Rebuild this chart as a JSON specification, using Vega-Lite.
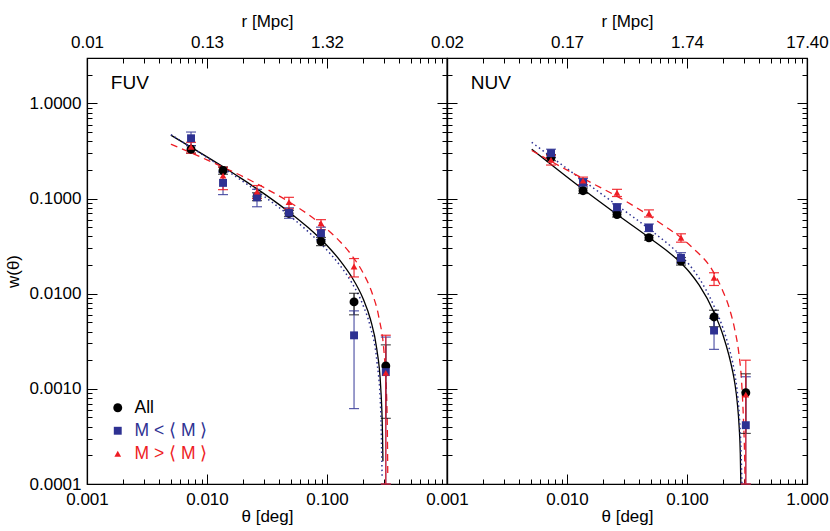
{
  "$schema": "https://vega.github.io/schema/vega-lite/v6.json",
  "background": "white",
  "padding": {"left": 3, "top": 11, "right": 0, "bottom": 0},
  "bounds": "flush",
  "spacing": 0,
  "config": {
    "font": "Liberation Sans",
    "view": {"stroke": "black", "strokeWidth": 1.2},
    "axis": {"labelFont": "Liberation Sans", "titleFont": "Liberation Sans", "labelFontSize": 17, "titleFontSize": 17, "titleFontWeight": "normal", "labelColor": "black", "titleColor": "black", "tickColor": "black", "domainColor": "black", "grid": false, "labelOverlap": false, "labelFlush": false, "labelBound": false, "tickWidth": 1, "domainWidth": 1.2}
  },
  "datasets": {
    "pts": [
      {"p": "FUV", "g": "All", "t": 0.00736, "w": 0.33, "lo": 0.30, "hi": 0.36},
      {"p": "FUV", "g": "All", "t": 0.0136, "w": 0.197, "lo": 0.18, "hi": 0.215},
      {"p": "FUV", "g": "All", "t": 0.0261, "w": 0.105, "lo": 0.095, "hi": 0.115},
      {"p": "FUV", "g": "All", "t": 0.0482, "w": 0.070, "lo": 0.065, "hi": 0.075},
      {"p": "FUV", "g": "All", "t": 0.0891, "w": 0.0354, "lo": 0.032, "hi": 0.039},
      {"p": "FUV", "g": "All", "t": 0.168, "w": 0.0082, "lo": 0.006, "hi": 0.0101},
      {"p": "FUV", "g": "All", "t": 0.309, "w": 0.00174, "lo": 0.00049, "hi": 0.0029},
      {"p": "FUV", "g": "M < ⟨ M ⟩", "t": 0.00736, "w": 0.43, "lo": 0.36, "hi": 0.5},
      {"p": "FUV", "g": "M < ⟨ M ⟩", "t": 0.0136, "w": 0.146, "lo": 0.110, "hi": 0.19},
      {"p": "FUV", "g": "M < ⟨ M ⟩", "t": 0.0261, "w": 0.103, "lo": 0.082, "hi": 0.125},
      {"p": "FUV", "g": "M < ⟨ M ⟩", "t": 0.0482, "w": 0.071, "lo": 0.062, "hi": 0.080},
      {"p": "FUV", "g": "M < ⟨ M ⟩", "t": 0.0891, "w": 0.0433, "lo": 0.037, "hi": 0.050},
      {"p": "FUV", "g": "M < ⟨ M ⟩", "t": 0.168, "w": 0.00365, "lo": 0.00062, "hi": 0.0066},
      {"p": "FUV", "g": "M < ⟨ M ⟩", "t": 0.309, "w": 0.0015, "lo": 0.0001, "hi": 0.0035},
      {"p": "FUV", "g": "M > ⟨ M ⟩", "t": 0.00736, "w": 0.35, "lo": 0.30, "hi": 0.39},
      {"p": "FUV", "g": "M > ⟨ M ⟩", "t": 0.0136, "w": 0.174, "lo": 0.124, "hi": 0.213},
      {"p": "FUV", "g": "M > ⟨ M ⟩", "t": 0.0261, "w": 0.118, "lo": 0.10, "hi": 0.137},
      {"p": "FUV", "g": "M > ⟨ M ⟩", "t": 0.0482, "w": 0.0915, "lo": 0.078, "hi": 0.103},
      {"p": "FUV", "g": "M > ⟨ M ⟩", "t": 0.0891, "w": 0.055, "lo": 0.047, "hi": 0.060},
      {"p": "FUV", "g": "M > ⟨ M ⟩", "t": 0.168, "w": 0.0193, "lo": 0.015, "hi": 0.0234},
      {"p": "FUV", "g": "M > ⟨ M ⟩", "t": 0.309, "w": 0.00147, "lo": 0.0001, "hi": 0.00366},
      {"p": "NUV", "g": "All", "t": 0.00736, "w": 0.27, "lo": 0.25, "hi": 0.29},
      {"p": "NUV", "g": "All", "t": 0.0136, "w": 0.121, "lo": 0.113, "hi": 0.129},
      {"p": "NUV", "g": "All", "t": 0.0261, "w": 0.068, "lo": 0.064, "hi": 0.072},
      {"p": "NUV", "g": "All", "t": 0.0482, "w": 0.0387, "lo": 0.0365, "hi": 0.041},
      {"p": "NUV", "g": "All", "t": 0.0891, "w": 0.022, "lo": 0.020, "hi": 0.024},
      {"p": "NUV", "g": "All", "t": 0.168, "w": 0.0057, "lo": 0.0045, "hi": 0.0067},
      {"p": "NUV", "g": "All", "t": 0.309, "w": 0.00091, "lo": 0.00034, "hi": 0.00144},
      {"p": "NUV", "g": "M < ⟨ M ⟩", "t": 0.00736, "w": 0.30, "lo": 0.27, "hi": 0.33},
      {"p": "NUV", "g": "M < ⟨ M ⟩", "t": 0.0136, "w": 0.148, "lo": 0.135, "hi": 0.162},
      {"p": "NUV", "g": "M < ⟨ M ⟩", "t": 0.0261, "w": 0.081, "lo": 0.074, "hi": 0.088},
      {"p": "NUV", "g": "M < ⟨ M ⟩", "t": 0.0482, "w": 0.0492, "lo": 0.045, "hi": 0.054},
      {"p": "NUV", "g": "M < ⟨ M ⟩", "t": 0.0891, "w": 0.0238, "lo": 0.021, "hi": 0.027},
      {"p": "NUV", "g": "M < ⟨ M ⟩", "t": 0.168, "w": 0.0041, "lo": 0.0026, "hi": 0.0055},
      {"p": "NUV", "g": "M < ⟨ M ⟩", "t": 0.309, "w": 0.000415, "lo": 0.0001, "hi": 0.00134},
      {"p": "NUV", "g": "M > ⟨ M ⟩", "t": 0.00736, "w": 0.255, "lo": 0.225, "hi": 0.285},
      {"p": "NUV", "g": "M > ⟨ M ⟩", "t": 0.0136, "w": 0.154, "lo": 0.14, "hi": 0.168},
      {"p": "NUV", "g": "M > ⟨ M ⟩", "t": 0.0261, "w": 0.115, "lo": 0.105, "hi": 0.125},
      {"p": "NUV", "g": "M > ⟨ M ⟩", "t": 0.0482, "w": 0.070, "lo": 0.064, "hi": 0.076},
      {"p": "NUV", "g": "M > ⟨ M ⟩", "t": 0.0891, "w": 0.0387, "lo": 0.0348, "hi": 0.0426},
      {"p": "NUV", "g": "M > ⟨ M ⟩", "t": 0.168, "w": 0.0147, "lo": 0.0122, "hi": 0.0166},
      {"p": "NUV", "g": "M > ⟨ M ⟩", "t": 0.309, "w": 0.00087, "lo": 0.0001, "hi": 0.0020}
    ],
    "curves": [
      {"p": "FUV", "g": "All", "t": 0.005, "w": 0.463},
      {"p": "FUV", "g": "All", "t": 0.007, "w": 0.360},
      {"p": "FUV", "g": "All", "t": 0.01, "w": 0.274},
      {"p": "FUV", "g": "All", "t": 0.015, "w": 0.1995},
      {"p": "FUV", "g": "All", "t": 0.02, "w": 0.158},
      {"p": "FUV", "g": "All", "t": 0.03, "w": 0.112},
      {"p": "FUV", "g": "All", "t": 0.05, "w": 0.0697},
      {"p": "FUV", "g": "All", "t": 0.07, "w": 0.0492},
      {"p": "FUV", "g": "All", "t": 0.1, "w": 0.0321},
      {"p": "FUV", "g": "All", "t": 0.13, "w": 0.0219},
      {"p": "FUV", "g": "All", "t": 0.16, "w": 0.0151},
      {"p": "FUV", "g": "All", "t": 0.2, "w": 0.00885},
      {"p": "FUV", "g": "All", "t": 0.23, "w": 0.00539},
      {"p": "FUV", "g": "All", "t": 0.26, "w": 0.00261},
      {"p": "FUV", "g": "All", "t": 0.28, "w": 0.00106},
      {"p": "FUV", "g": "All", "t": 0.29, "w": 0.000337},
      {"p": "FUV", "g": "All", "t": 0.2925, "w": 0.000173},
      {"p": "FUV", "g": "lo", "t": 0.005, "w": 0.470},
      {"p": "FUV", "g": "lo", "t": 0.007, "w": 0.360},
      {"p": "FUV", "g": "lo", "t": 0.01, "w": 0.270},
      {"p": "FUV", "g": "lo", "t": 0.015, "w": 0.193},
      {"p": "FUV", "g": "lo", "t": 0.02, "w": 0.151},
      {"p": "FUV", "g": "lo", "t": 0.03, "w": 0.105},
      {"p": "FUV", "g": "lo", "t": 0.05, "w": 0.0643},
      {"p": "FUV", "g": "lo", "t": 0.07, "w": 0.0447},
      {"p": "FUV", "g": "lo", "t": 0.1, "w": 0.0287},
      {"p": "FUV", "g": "lo", "t": 0.13, "w": 0.0194},
      {"p": "FUV", "g": "lo", "t": 0.16, "w": 0.0132},
      {"p": "FUV", "g": "lo", "t": 0.2, "w": 0.00754},
      {"p": "FUV", "g": "lo", "t": 0.23, "w": 0.00446},
      {"p": "FUV", "g": "lo", "t": 0.26, "w": 0.0020},
      {"p": "FUV", "g": "lo", "t": 0.28, "w": 0.00062},
      {"p": "FUV", "g": "lo", "t": 0.288, "w": 0.000118},
      {"p": "FUV", "g": "hi", "t": 0.005, "w": 0.372},
      {"p": "FUV", "g": "hi", "t": 0.007, "w": 0.311},
      {"p": "FUV", "g": "hi", "t": 0.01, "w": 0.255},
      {"p": "FUV", "g": "hi", "t": 0.015, "w": 0.202},
      {"p": "FUV", "g": "hi", "t": 0.02, "w": 0.170},
      {"p": "FUV", "g": "hi", "t": 0.03, "w": 0.130},
      {"p": "FUV", "g": "hi", "t": 0.05, "w": 0.0899},
      {"p": "FUV", "g": "hi", "t": 0.07, "w": 0.0678},
      {"p": "FUV", "g": "hi", "t": 0.1, "w": 0.0476},
      {"p": "FUV", "g": "hi", "t": 0.13, "w": 0.0347},
      {"p": "FUV", "g": "hi", "t": 0.16, "w": 0.0255},
      {"p": "FUV", "g": "hi", "t": 0.2, "w": 0.0165},
      {"p": "FUV", "g": "hi", "t": 0.24, "w": 0.0098},
      {"p": "FUV", "g": "hi", "t": 0.27, "w": 0.00572},
      {"p": "FUV", "g": "hi", "t": 0.3, "w": 0.00227},
      {"p": "FUV", "g": "hi", "t": 0.31, "w": 0.00121},
      {"p": "FUV", "g": "hi", "t": 0.318, "w": 0.00041},
      {"p": "FUV", "g": "hi", "t": 0.321, "w": 0.000116},
      {"p": "NUV", "g": "All", "t": 0.00508, "w": 0.33},
      {"p": "NUV", "g": "All", "t": 0.0136, "w": 0.125},
      {"p": "NUV", "g": "All", "t": 0.0261, "w": 0.068},
      {"p": "NUV", "g": "All", "t": 0.0482, "w": 0.039},
      {"p": "NUV", "g": "All", "t": 0.0891, "w": 0.021},
      {"p": "NUV", "g": "All", "t": 0.105, "w": 0.0168},
      {"p": "NUV", "g": "All", "t": 0.126, "w": 0.01235},
      {"p": "NUV", "g": "All", "t": 0.168, "w": 0.00636},
      {"p": "NUV", "g": "All", "t": 0.2, "w": 0.00364},
      {"p": "NUV", "g": "All", "t": 0.224, "w": 0.00223},
      {"p": "NUV", "g": "All", "t": 0.24, "w": 0.00153},
      {"p": "NUV", "g": "All", "t": 0.251, "w": 0.00112},
      {"p": "NUV", "g": "All", "t": 0.262, "w": 0.00073},
      {"p": "NUV", "g": "All", "t": 0.272, "w": 0.0004},
      {"p": "NUV", "g": "All", "t": 0.278, "w": 0.00021},
      {"p": "NUV", "g": "All", "t": 0.281, "w": 0.0001},
      {"p": "NUV", "g": "lo", "t": 0.00508, "w": 0.39},
      {"p": "NUV", "g": "lo", "t": 0.0136, "w": 0.155},
      {"p": "NUV", "g": "lo", "t": 0.0261, "w": 0.085},
      {"p": "NUV", "g": "lo", "t": 0.0482, "w": 0.048},
      {"p": "NUV", "g": "lo", "t": 0.0891, "w": 0.025},
      {"p": "NUV", "g": "lo", "t": 0.105, "w": 0.0200},
      {"p": "NUV", "g": "lo", "t": 0.126, "w": 0.0146},
      {"p": "NUV", "g": "lo", "t": 0.168, "w": 0.0074},
      {"p": "NUV", "g": "lo", "t": 0.2, "w": 0.0043},
      {"p": "NUV", "g": "lo", "t": 0.224, "w": 0.0027},
      {"p": "NUV", "g": "lo", "t": 0.24, "w": 0.0019},
      {"p": "NUV", "g": "lo", "t": 0.251, "w": 0.0014},
      {"p": "NUV", "g": "lo", "t": 0.262, "w": 0.00095},
      {"p": "NUV", "g": "lo", "t": 0.272, "w": 0.00055},
      {"p": "NUV", "g": "lo", "t": 0.28, "w": 0.00028},
      {"p": "NUV", "g": "lo", "t": 0.285, "w": 0.00014},
      {"p": "NUV", "g": "lo", "t": 0.287, "w": 0.0001},
      {"p": "NUV", "g": "hi", "t": 0.00508, "w": 0.32},
      {"p": "NUV", "g": "hi", "t": 0.0104, "w": 0.194},
      {"p": "NUV", "g": "hi", "t": 0.0162, "w": 0.145},
      {"p": "NUV", "g": "hi", "t": 0.0312, "w": 0.093},
      {"p": "NUV", "g": "hi", "t": 0.0584, "w": 0.0564},
      {"p": "NUV", "g": "hi", "t": 0.110, "w": 0.0308},
      {"p": "NUV", "g": "hi", "t": 0.163, "w": 0.0176},
      {"p": "NUV", "g": "hi", "t": 0.2, "w": 0.0105},
      {"p": "NUV", "g": "hi", "t": 0.224, "w": 0.0072},
      {"p": "NUV", "g": "hi", "t": 0.25, "w": 0.0042},
      {"p": "NUV", "g": "hi", "t": 0.27, "w": 0.0024},
      {"p": "NUV", "g": "hi", "t": 0.285, "w": 0.0012},
      {"p": "NUV", "g": "hi", "t": 0.295, "w": 0.0005},
      {"p": "NUV", "g": "hi", "t": 0.302, "w": 0.0002},
      {"p": "NUV", "g": "hi", "t": 0.305, "w": 0.0001}
    ],
    "names": [
      {"p": "FUV", "t": 0.00158, "w": 1.65, "txt": "FUV"},
      {"p": "NUV", "t": 0.00158, "w": 1.65, "txt": "NUV"}
    ]
  },
  "hconcat": [
    {
      "width": 360, "height": 426,
      "resolve": {"axis": {"x": "independent", "y": "independent"}},
      "layer": [
        {
          "data": {"name": "curves"},
          "transform": [{"filter": "datum.p == 'FUV' && datum.g == 'All'"}],
          "mark": {"type": "line", "color": "black", "strokeWidth": 1.3, "clip": true, "interpolate": "monotone"},
          "encoding": {
            "x": {"field": "t", "type": "quantitative", "scale": {"type": "log", "domain": [0.001, 1], "nice": false}, "axis": {"orient": "bottom", "values": [0.001, 0.01, 0.1, 1], "labelExpr": "datum.value >= 1 ? '' : format(datum.value, '.3f')", "title": "θ [deg]", "tickSize": -10, "labelPadding": 17, "titlePadding": 1}},
            "y": {"field": "w", "type": "quantitative", "scale": {"type": "log", "domain": [0.0001, 3], "nice": false}, "axis": {"orient": "left", "values": [0.0001, 0.001, 0.01, 0.1, 1], "format": ".4f", "title": "w(θ)", "tickSize": -10, "labelPadding": 16, "titlePadding": 7}}
          }
        },
        {
          "data": {"name": "curves"},
          "transform": [{"filter": "datum.p == 'FUV' && datum.g == 'lo'"}],
          "mark": {"type": "line", "color": "#2e3192", "strokeWidth": 1.5, "strokeDash": [1.5, 3], "clip": true, "interpolate": "monotone"},
          "encoding": {
            "x": {"field": "t", "type": "quantitative", "scale": {"type": "log", "domain": [0.001, 1], "nice": false}, "axis": {"orient": "bottom", "values": [0.002,0.003,0.004,0.005,0.006,0.007,0.008,0.009,0.02,0.03,0.04,0.05,0.06,0.07,0.08,0.09,0.2,0.3,0.4,0.5,0.6,0.7,0.8,0.9], "labels": false, "title": null, "tickSize": -5, "domain": false}},
            "y": {"field": "w", "type": "quantitative", "scale": {"type": "log", "domain": [0.0001, 3], "nice": false}, "axis": {"orient": "left", "values": [0.0002,0.0003,0.0004,0.0005,0.0006,0.0007,0.0008,0.0009,0.002,0.003,0.004,0.005,0.006,0.007,0.008,0.009,0.02,0.03,0.04,0.05,0.06,0.07,0.08,0.09,0.2,0.3,0.4,0.5,0.6,0.7,0.8,0.9,2], "labels": false, "title": null, "tickSize": -5, "domain": false}}
          }
        },
        {
          "data": {"name": "curves"},
          "transform": [{"filter": "datum.p == 'FUV' && datum.g == 'hi'"}],
          "mark": {"type": "line", "color": "#ee1c24", "strokeWidth": 1.3, "strokeDash": [7, 5], "clip": true, "interpolate": "monotone"},
          "encoding": {
            "x": {"field": "t", "type": "quantitative", "scale": {"type": "log", "domain": [0.001, 1], "nice": false}, "axis": {"orient": "top", "values": [0.001, 0.01, 0.1, 1], "labelExpr": "datum.value >= 1 ? '' : format(datum.value * 13.2, '.2f')", "title": "r [Mpc]", "tickSize": -10, "labelPadding": 17, "titlePadding": 3}},
            "y": {"field": "w", "type": "quantitative", "scale": {"type": "log", "domain": [0.0001, 3], "nice": false}, "axis": {"orient": "right", "values": [0.0001, 0.001, 0.01, 0.1, 1], "labels": false, "title": null, "tickSize": -10}}
          }
        },
        {
          "data": {"name": "names"},
          "transform": [{"filter": "datum.p == 'FUV'"}],
          "mark": {"type": "text", "align": "left", "baseline": "middle", "fontSize": 19, "font": "Liberation Sans", "color": "black"},
          "encoding": {
            "x": {"field": "t", "type": "quantitative", "scale": {"type": "log", "domain": [0.001, 1], "nice": false}, "axis": {"orient": "top", "values": [0.002,0.003,0.004,0.005,0.006,0.007,0.008,0.009,0.02,0.03,0.04,0.05,0.06,0.07,0.08,0.09,0.2,0.3,0.4,0.5,0.6,0.7,0.8,0.9], "labels": false, "title": null, "tickSize": -5, "domain": false}},
            "y": {"field": "w", "type": "quantitative", "scale": {"type": "log", "domain": [0.0001, 3], "nice": false}, "axis": {"orient": "right", "values": [0.0002,0.0003,0.0004,0.0005,0.0006,0.0007,0.0008,0.0009,0.002,0.003,0.004,0.005,0.006,0.007,0.008,0.009,0.02,0.03,0.04,0.05,0.06,0.07,0.08,0.09,0.2,0.3,0.4,0.5,0.6,0.7,0.8,0.9,2], "labels": false, "title": null, "tickSize": -5, "domain": false}},
            "text": {"field": "txt"}
          }
        },
        {
          "data": {"name": "pts"},
          "transform": [{"filter": "datum.p == 'FUV' && datum.g == 'All'"}],
          "mark": {"type": "errorbar", "ticks": true, "size": 10, "thickness": 1.2, "color": "black"},
          "encoding": {
            "x": {"field": "t", "type": "quantitative", "scale": {"type": "log", "domain": [0.001, 1], "nice": false}, "axis": null},
            "y": {"field": "lo", "type": "quantitative", "scale": {"type": "log", "domain": [0.0001, 3], "nice": false}, "axis": null},
            "y2": {"field": "hi"}
          }
        },
        {
          "data": {"name": "pts"},
          "transform": [{"filter": "datum.p == 'FUV' && indexof(datum.g, '<') >= 0"}],
          "mark": {"type": "errorbar", "ticks": true, "size": 10, "thickness": 1.2, "color": "#3a3d9a", "opacity": 0.85},
          "encoding": {
            "x": {"field": "t", "type": "quantitative", "scale": {"type": "log", "domain": [0.001, 1], "nice": false}, "axis": null},
            "y": {"field": "lo", "type": "quantitative", "scale": {"type": "log", "domain": [0.0001, 3], "nice": false}, "axis": null},
            "y2": {"field": "hi"}
          }
        },
        {
          "data": {"name": "pts"},
          "transform": [{"filter": "datum.p == 'FUV' && indexof(datum.g, '>') >= 0"}],
          "mark": {"type": "errorbar", "ticks": true, "size": 10, "thickness": 1.2, "color": "#ee1c24", "opacity": 0.9},
          "encoding": {
            "x": {"field": "t", "type": "quantitative", "scale": {"type": "log", "domain": [0.001, 1], "nice": false}, "axis": null},
            "y": {"field": "lo", "type": "quantitative", "scale": {"type": "log", "domain": [0.0001, 3], "nice": false}, "axis": null},
            "y2": {"field": "hi"}
          }
        },
        {
          "data": {"name": "pts"},
          "transform": [{"filter": "datum.p == 'FUV'"}],
          "mark": {"type": "point", "filled": true, "opacity": 1, "clip": true},
          "encoding": {
            "x": {"field": "t", "type": "quantitative", "scale": {"type": "log", "domain": [0.001, 1], "nice": false}, "axis": null},
            "y": {"field": "w", "type": "quantitative", "scale": {"type": "log", "domain": [0.0001, 3], "nice": false}, "axis": null},
            "color": {"field": "g", "type": "nominal", "scale": {"domain": ["All", "M < ⟨ M ⟩", "M > ⟨ M ⟩"], "range": ["black", "#2e3192", "#ee1c24"]}, "legend": {"orient": "none", "legendX": 22, "legendY": 341, "title": null, "labelFontSize": 17.5, "labelFont": "Liberation Sans", "symbolSize": 80, "rowPadding": 4, "labelOffset": 8, "symbolStrokeWidth": 0, "labelColor": {"expr": "datum.index == 0 ? 'black' : (datum.index == 1 ? '#2e3192' : '#ee1c24')"}}},
            "shape": {"field": "g", "type": "nominal", "scale": {"domain": ["All", "M < ⟨ M ⟩", "M > ⟨ M ⟩"], "range": ["circle", "square", "triangle-up"]}, "legend": {"orient": "none", "legendX": 22, "legendY": 341, "title": null, "labelFontSize": 17.5, "labelFont": "Liberation Sans", "symbolSize": 80, "rowPadding": 4, "labelOffset": 8, "symbolStrokeWidth": 0, "labelColor": {"expr": "datum.index == 0 ? 'black' : (datum.index == 1 ? '#2e3192' : '#ee1c24')"}}},
            "size": {"field": "g", "type": "nominal", "scale": {"domain": ["All", "M < ⟨ M ⟩", "M > ⟨ M ⟩"], "range": [80, 45, 75]}, "legend": null}
          }
        }
      ]
    },
    {
      "width": 360, "height": 426,
      "resolve": {"axis": {"x": "independent", "y": "independent"}},
      "layer": [
        {
          "data": {"name": "curves"},
          "transform": [{"filter": "datum.p == 'NUV' && datum.g == 'All'"}],
          "mark": {"type": "line", "color": "black", "strokeWidth": 1.3, "clip": true, "interpolate": "monotone"},
          "encoding": {
            "x": {"field": "t", "type": "quantitative", "scale": {"type": "log", "domain": [0.001, 1], "nice": false}, "axis": {"orient": "bottom", "values": [0.001, 0.01, 0.1, 1], "format": ".3f", "title": "θ [deg]", "tickSize": -10, "labelPadding": 17, "titlePadding": 1}},
            "y": {"field": "w", "type": "quantitative", "scale": {"type": "log", "domain": [0.0001, 3], "nice": false}, "axis": {"orient": "left", "values": [0.0001, 0.001, 0.01, 0.1, 1], "labels": false, "title": null, "tickSize": -10}}
          }
        },
        {
          "data": {"name": "curves"},
          "transform": [{"filter": "datum.p == 'NUV' && datum.g == 'lo'"}],
          "mark": {"type": "line", "color": "#2e3192", "strokeWidth": 1.5, "strokeDash": [1.5, 3], "clip": true, "interpolate": "monotone"},
          "encoding": {
            "x": {"field": "t", "type": "quantitative", "scale": {"type": "log", "domain": [0.001, 1], "nice": false}, "axis": {"orient": "bottom", "values": [0.002,0.003,0.004,0.005,0.006,0.007,0.008,0.009,0.02,0.03,0.04,0.05,0.06,0.07,0.08,0.09,0.2,0.3,0.4,0.5,0.6,0.7,0.8,0.9], "labels": false, "title": null, "tickSize": -5, "domain": false}},
            "y": {"field": "w", "type": "quantitative", "scale": {"type": "log", "domain": [0.0001, 3], "nice": false}, "axis": {"orient": "left", "values": [0.0002,0.0003,0.0004,0.0005,0.0006,0.0007,0.0008,0.0009,0.002,0.003,0.004,0.005,0.006,0.007,0.008,0.009,0.02,0.03,0.04,0.05,0.06,0.07,0.08,0.09,0.2,0.3,0.4,0.5,0.6,0.7,0.8,0.9,2], "labels": false, "title": null, "tickSize": -5, "domain": false}}
          }
        },
        {
          "data": {"name": "curves"},
          "transform": [{"filter": "datum.p == 'NUV' && datum.g == 'hi'"}],
          "mark": {"type": "line", "color": "#ee1c24", "strokeWidth": 1.3, "strokeDash": [7, 5], "clip": true, "interpolate": "monotone"},
          "encoding": {
            "x": {"field": "t", "type": "quantitative", "scale": {"type": "log", "domain": [0.001, 1], "nice": false}, "axis": {"orient": "top", "values": [0.001, 0.01, 0.1, 1], "labelExpr": "format(datum.value * 17.4, '.2f')", "title": "r [Mpc]", "tickSize": -10, "labelPadding": 17, "titlePadding": 3}},
            "y": {"field": "w", "type": "quantitative", "scale": {"type": "log", "domain": [0.0001, 3], "nice": false}, "axis": {"orient": "right", "values": [0.0001, 0.001, 0.01, 0.1, 1], "labels": false, "title": null, "tickSize": -10}}
          }
        },
        {
          "data": {"name": "names"},
          "transform": [{"filter": "datum.p == 'NUV'"}],
          "mark": {"type": "text", "align": "left", "baseline": "middle", "fontSize": 19, "font": "Liberation Sans", "color": "black"},
          "encoding": {
            "x": {"field": "t", "type": "quantitative", "scale": {"type": "log", "domain": [0.001, 1], "nice": false}, "axis": {"orient": "top", "values": [0.002,0.003,0.004,0.005,0.006,0.007,0.008,0.009,0.02,0.03,0.04,0.05,0.06,0.07,0.08,0.09,0.2,0.3,0.4,0.5,0.6,0.7,0.8,0.9], "labels": false, "title": null, "tickSize": -5, "domain": false}},
            "y": {"field": "w", "type": "quantitative", "scale": {"type": "log", "domain": [0.0001, 3], "nice": false}, "axis": {"orient": "right", "values": [0.0002,0.0003,0.0004,0.0005,0.0006,0.0007,0.0008,0.0009,0.002,0.003,0.004,0.005,0.006,0.007,0.008,0.009,0.02,0.03,0.04,0.05,0.06,0.07,0.08,0.09,0.2,0.3,0.4,0.5,0.6,0.7,0.8,0.9,2], "labels": false, "title": null, "tickSize": -5, "domain": false}},
            "text": {"field": "txt"}
          }
        },
        {
          "data": {"name": "pts"},
          "transform": [{"filter": "datum.p == 'NUV' && datum.g == 'All'"}],
          "mark": {"type": "errorbar", "ticks": true, "size": 10, "thickness": 1.2, "color": "black"},
          "encoding": {
            "x": {"field": "t", "type": "quantitative", "scale": {"type": "log", "domain": [0.001, 1], "nice": false}, "axis": null},
            "y": {"field": "lo", "type": "quantitative", "scale": {"type": "log", "domain": [0.0001, 3], "nice": false}, "axis": null},
            "y2": {"field": "hi"}
          }
        },
        {
          "data": {"name": "pts"},
          "transform": [{"filter": "datum.p == 'NUV' && indexof(datum.g, '<') >= 0"}],
          "mark": {"type": "errorbar", "ticks": true, "size": 10, "thickness": 1.2, "color": "#3a3d9a", "opacity": 0.85},
          "encoding": {
            "x": {"field": "t", "type": "quantitative", "scale": {"type": "log", "domain": [0.001, 1], "nice": false}, "axis": null},
            "y": {"field": "lo", "type": "quantitative", "scale": {"type": "log", "domain": [0.0001, 3], "nice": false}, "axis": null},
            "y2": {"field": "hi"}
          }
        },
        {
          "data": {"name": "pts"},
          "transform": [{"filter": "datum.p == 'NUV' && indexof(datum.g, '>') >= 0"}],
          "mark": {"type": "errorbar", "ticks": true, "size": 10, "thickness": 1.2, "color": "#ee1c24", "opacity": 0.9},
          "encoding": {
            "x": {"field": "t", "type": "quantitative", "scale": {"type": "log", "domain": [0.001, 1], "nice": false}, "axis": null},
            "y": {"field": "lo", "type": "quantitative", "scale": {"type": "log", "domain": [0.0001, 3], "nice": false}, "axis": null},
            "y2": {"field": "hi"}
          }
        },
        {
          "data": {"name": "pts"},
          "transform": [{"filter": "datum.p == 'NUV'"}],
          "mark": {"type": "point", "filled": true, "opacity": 1, "clip": true},
          "encoding": {
            "x": {"field": "t", "type": "quantitative", "scale": {"type": "log", "domain": [0.001, 1], "nice": false}, "axis": null},
            "y": {"field": "w", "type": "quantitative", "scale": {"type": "log", "domain": [0.0001, 3], "nice": false}, "axis": null},
            "color": {"field": "g", "type": "nominal", "scale": {"domain": ["All", "M < ⟨ M ⟩", "M > ⟨ M ⟩"], "range": ["black", "#2e3192", "#ee1c24"]}, "legend": {"orient": "none", "legendX": 22, "legendY": 341, "title": null, "labelFontSize": 17.5, "labelFont": "Liberation Sans", "symbolSize": 80, "rowPadding": 4, "labelOffset": 8, "symbolStrokeWidth": 0, "labelColor": {"expr": "datum.index == 0 ? 'black' : (datum.index == 1 ? '#2e3192' : '#ee1c24')"}}},
            "shape": {"field": "g", "type": "nominal", "scale": {"domain": ["All", "M < ⟨ M ⟩", "M > ⟨ M ⟩"], "range": ["circle", "square", "triangle-up"]}, "legend": {"orient": "none", "legendX": 22, "legendY": 341, "title": null, "labelFontSize": 17.5, "labelFont": "Liberation Sans", "symbolSize": 80, "rowPadding": 4, "labelOffset": 8, "symbolStrokeWidth": 0, "labelColor": {"expr": "datum.index == 0 ? 'black' : (datum.index == 1 ? '#2e3192' : '#ee1c24')"}}},
            "size": {"field": "g", "type": "nominal", "scale": {"domain": ["All", "M < ⟨ M ⟩", "M > ⟨ M ⟩"], "range": [80, 45, 75]}, "legend": null}
          }
        }
      ]
    }
  ]
}
